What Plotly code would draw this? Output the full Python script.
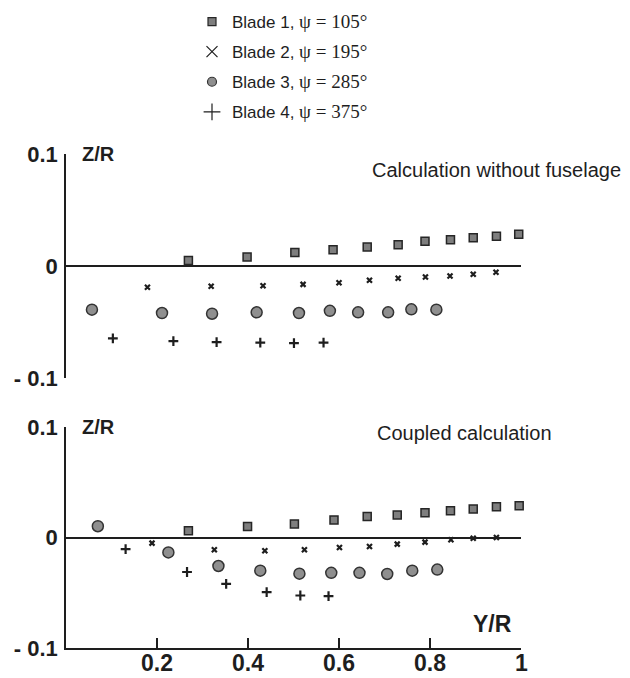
import plotly.graph_objects as go

# ---------------- data ----------------
series_names = ["Blade 1, ψ = 105°", "Blade 2, ψ = 195°", "Blade 3, ψ = 285°", "Blade 4, ψ = 375°"]

# Top panel: calculation without fuselage
top_b1_x = [0.269, 0.398, 0.503, 0.587, 0.662, 0.730, 0.789, 0.845, 0.895, 0.946, 0.995]
top_b1_z = [0.005, 0.008, 0.012, 0.0146, 0.017, 0.019, 0.0222, 0.0235, 0.0253, 0.0265, 0.0283]
top_b2_x = [0.179, 0.319, 0.433, 0.521, 0.600, 0.667, 0.730, 0.790, 0.844, 0.895, 0.945]
top_b2_z = [-0.019, -0.018, -0.0176, -0.0164, -0.0149, -0.0128, -0.011, -0.0098, -0.0089, -0.0074, -0.0056]
top_b3_x = [0.057, 0.211, 0.321, 0.419, 0.512, 0.580, 0.642, 0.708, 0.759, 0.814]
top_b3_z = [-0.039, -0.042, -0.0426, -0.0414, -0.042, -0.040, -0.0414, -0.0414, -0.0387, -0.039]
top_b4_x = [0.103, 0.236, 0.331, 0.427, 0.501, 0.566]
top_b4_z = [-0.0646, -0.067, -0.0679, -0.0685, -0.0688, -0.0685]

# Bottom panel: coupled calculation
bot_b1_x = [0.269, 0.399, 0.502, 0.589, 0.662, 0.728, 0.789, 0.845, 0.895, 0.946, 0.996]
bot_b1_z = [0.006, 0.0099, 0.0123, 0.0159, 0.0189, 0.0204, 0.0225, 0.0243, 0.0258, 0.0279, 0.0288]
bot_b2_x = [0.189, 0.326, 0.437, 0.524, 0.601, 0.667, 0.728, 0.789, 0.846, 0.895, 0.946]
bot_b2_z = [-0.0051, -0.0111, -0.012, -0.0111, -0.009, -0.0081, -0.006, -0.0042, -0.0021, -0.0006, 0.0]
bot_b3_x = [0.070, 0.225, 0.335, 0.427, 0.513, 0.583, 0.645, 0.706, 0.761, 0.816]
bot_b3_z = [0.0102, -0.0135, -0.0258, -0.030, -0.0327, -0.032, -0.032, -0.033, -0.030, -0.029]
bot_b4_x = [0.131, 0.266, 0.352, 0.441, 0.515, 0.577]
bot_b4_z = [-0.0105, -0.0312, -0.042, -0.0495, -0.0525, -0.053]

y_tickvals = [-0.1, 0, 0.1]
y_ticktext = ["- 0.1", "0", "0.1"]
x_tickvals = [0.2, 0.4, 0.6, 0.8, 1.0]
x_ticktext = ["0.2", "0.4", "0.6", "0.8", "1"]

# ---------------- styles ----------------
INK = "#1e1e1e"
plot_markers = [
    dict(symbol="square", size=8, color="#7e7e7e", line=dict(color="#262626", width=1.5)),
    dict(symbol="x-thin", size=5, color=INK, line=dict(color=INK, width=2.2)),
    dict(symbol="circle", size=11, color="#8f8f8f", line=dict(color="#333333", width=1.5)),
    dict(symbol="cross-thin", size=7, color=INK, line=dict(color=INK, width=2.2)),
]
legend_markers = [
    dict(symbol="square", size=8, color="#7e7e7e", line=dict(color="#262626", width=1.2)),
    dict(symbol="x-thin", size=11, color=INK, line=dict(color=INK, width=1.2)),
    dict(symbol="circle", size=9, color="#8f8f8f", line=dict(color="#333333", width=1.2)),
    dict(symbol="cross-thin", size=12, color=INK, line=dict(color=INK, width=1.2)),
]

fig = go.Figure()

top_data = [(top_b1_x, top_b1_z), (top_b2_x, top_b2_z), (top_b3_x, top_b3_z), (top_b4_x, top_b4_z)]
bot_data = [(bot_b1_x, bot_b1_z), (bot_b2_x, bot_b2_z), (bot_b3_x, bot_b3_z), (bot_b4_x, bot_b4_z)]

for i, (xs, zs) in enumerate(top_data):
    fig.add_trace(go.Scatter(x=xs, y=zs, mode="markers", marker=plot_markers[i],
                             xaxis="x", yaxis="y", showlegend=False, cliponaxis=False))
for i, (xs, zs) in enumerate(bot_data):
    fig.add_trace(go.Scatter(x=xs, y=zs, mode="markers", marker=plot_markers[i],
                             xaxis="x2", yaxis="y2", showlegend=False, cliponaxis=False))

# legend-only entries
for i, name in enumerate(series_names):
    label, psi = name.split(", ")
    txt = f"{label}, <span style='font-family:Liberation Serif;font-size:19px'>{psi}</span>"
    fig.add_trace(go.Scatter(x=[None], y=[None], mode="markers", marker=legend_markers[i],
                             name=txt, legendgroup=f"g{i}", showlegend=True,
                             xaxis="x", yaxis="y"))

W, H = 630, 678
xdom = [66 / W, 521 / W]
top_dom = [1 - 378 / H, 1 - 154 / H]
bot_dom = [1 - 648 / H, 1 - 427 / H]

tickfont = dict(family="Liberation Sans", size=22, color=INK)

common_y = dict(range=[-0.1, 0.1], showgrid=False, zeroline=True, zerolinecolor=INK,
                zerolinewidth=1.5, showline=True, linecolor=INK, linewidth=1.5,
                ticks="inside", ticklen=5, tickwidth=1.5, tickcolor=INK,
                tickvals=y_tickvals, ticktext=[f"<b>{t}</b>" for t in y_ticktext],
                tickfont=tickfont, ticklabelstandoff=2, automargin=False, fixedrange=True)

fig.update_layout(
    width=W, height=H, autosize=False,
    margin=dict(l=0, r=0, t=0, b=0),
    paper_bgcolor="white", plot_bgcolor="white",
    font=dict(family="Liberation Sans", color=INK),
    xaxis=dict(domain=xdom, range=[0, 1], anchor="y", visible=False, fixedrange=True),
    yaxis=dict(domain=top_dom, anchor="x", **common_y),
    xaxis2=dict(domain=xdom, range=[0, 1], anchor="y2", showgrid=False, zeroline=False,
                showline=True, linecolor=INK, linewidth=1.5,
                ticks="inside", ticklen=10, tickwidth=1.5, tickcolor=INK,
                tickvals=x_tickvals, showticklabels=False,
                automargin=False, fixedrange=True),
    yaxis2=dict(domain=bot_dom, anchor="x2", **common_y),
    legend=dict(x=192 / W, xanchor="left", y=1 - 4 / H, yanchor="top",
                font=dict(family="Liberation Sans", size=17, color=INK),
                tracegroupgap=5, bgcolor="rgba(0,0,0,0)", borderwidth=0),
    showlegend=True,
)

# x tick labels placed under the bottom axis
for v, t in zip(x_tickvals, x_ticktext):
    fig.add_annotation(xref="x2", yref="y2", x=v, y=-0.1, yshift=-15, text=f"<b>{t}</b>",
                       showarrow=False, xanchor="center", yanchor="middle", borderpad=0,
                       font=dict(family="Liberation Sans", size=23, color=INK))

ann_font = dict(family="Liberation Sans", size=20, color=INK)
for ax in ("", "2"):
    fig.add_annotation(xref="x" + ax, yref="y" + ax, x=0, y=0.1, xshift=14, text="<b>Z/R</b>",
                       showarrow=False, xanchor="left", yanchor="middle",
                       font=dict(family="Liberation Sans", size=20, color=INK))
fig.add_annotation(xref="x2", yref="y2", x=1.0, y=-0.078, xshift=-7, text="<b>Y/R</b>",
                   showarrow=False, xanchor="right", yanchor="middle",
                   font=dict(family="Liberation Sans", size=23, color=INK))
fig.add_annotation(xref="paper", yref="paper", x=623 / W, y=1 - 170 / H,
                   text="Calculation without fuselage", showarrow=False,
                   xanchor="right", yanchor="middle", font=ann_font)
fig.add_annotation(xref="paper", yref="paper", x=464 / W, y=1 - 433 / H,
                   text="Coupled calculation", showarrow=False,
                   xanchor="center", yanchor="middle", font=ann_font)

fig.write_html("out.html")
